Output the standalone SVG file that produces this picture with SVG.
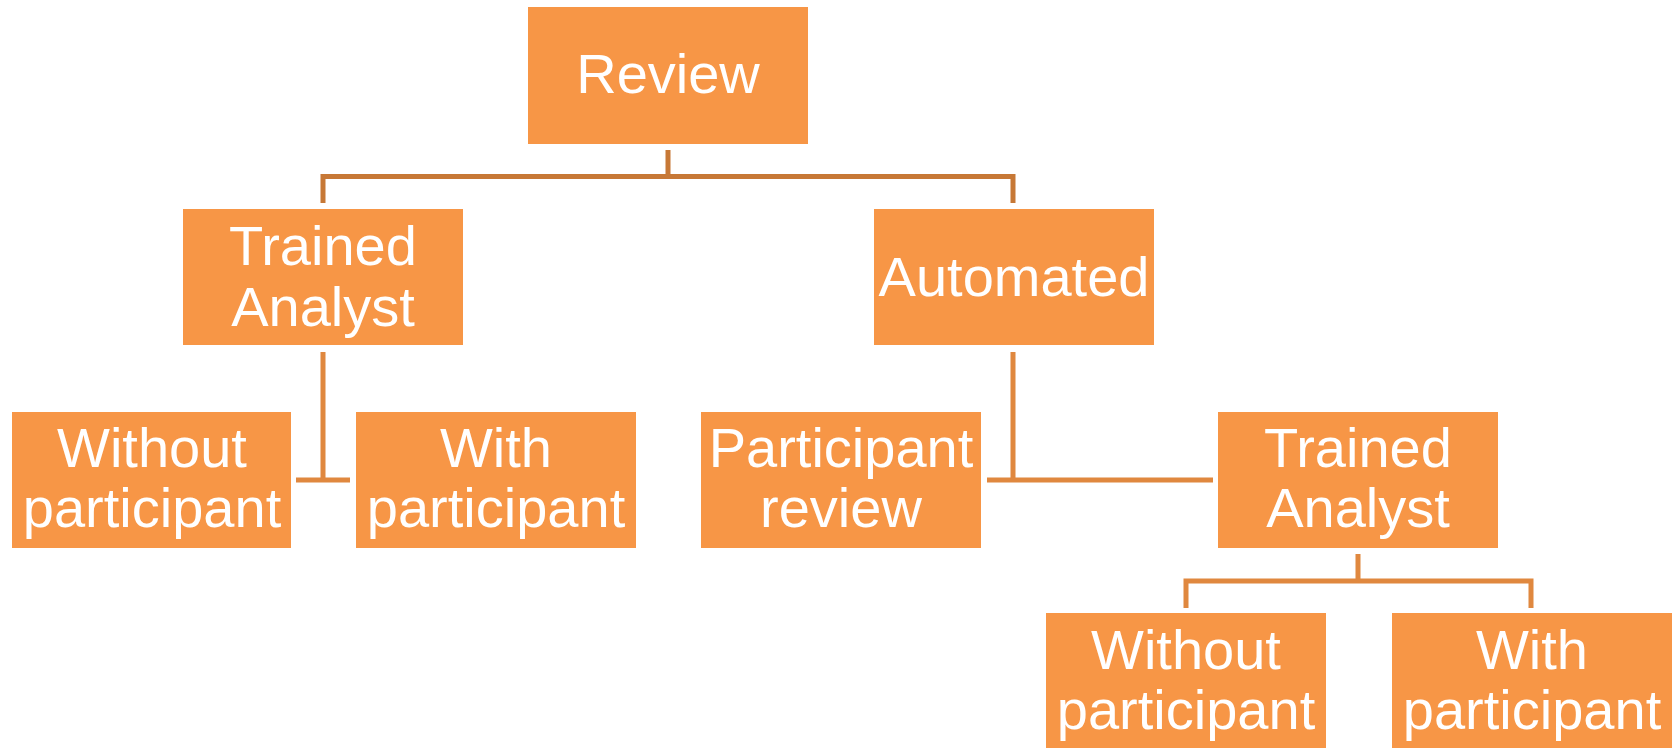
<svg xmlns="http://www.w3.org/2000/svg" width="1677" height="748" viewBox="0 0 1677 748">
<style>
.box{fill:#F79646;}
.t{font-family:"Liberation Sans",Arial,sans-serif;font-size:56px;fill:#FFFFFF;text-anchor:middle;}
.c1{stroke:#C77836;stroke-width:5;fill:none;}
.c2{stroke:#E0883F;stroke-width:5;fill:none;}
</style>
<rect width="1677" height="748" fill="#FFFFFF"/>
<g id="connectors">
<path class="c1" d="M668 150V176.5M323 203V176.5H1013V203"/>
<path class="c2" d="M323 352V480M296 480H350"/>
<path class="c2" d="M1013 352V480M987 480H1213"/>
<path class="c2" d="M1358 554V581M1186 608V581H1531V608"/>
</g>
<g id="review"><rect class="box" x="528" y="7" width="280" height="137"/><text class="t" x="668" y="93">Review</text></g>
<g id="trained-analyst-1"><rect class="box" x="183" y="209" width="280" height="136"/><text class="t" x="323" y="265">Trained</text><text class="t" x="323" y="326">Analyst</text></g>
<g id="automated"><rect class="box" x="874" y="209" width="280" height="136"/><text class="t" x="1014" y="296">Automated</text></g>
<g id="without-participant-1"><rect class="box" x="12" y="412" width="279" height="136"/><text class="t" x="152" y="467">Without</text><text class="t" x="152" y="527">participant</text></g>
<g id="with-participant-1"><rect class="box" x="356" y="412" width="280" height="136"/><text class="t" x="496" y="467">With</text><text class="t" x="496" y="527">participant</text></g>
<g id="participant-review"><rect class="box" x="701" y="412" width="280" height="136"/><text class="t" x="841" y="467">Participant</text><text class="t" x="841" y="527">review</text></g>
<g id="trained-analyst-2"><rect class="box" x="1218" y="412" width="280" height="136"/><text class="t" x="1358" y="467">Trained</text><text class="t" x="1358" y="527">Analyst</text></g>
<g id="without-participant-2"><rect class="box" x="1046" y="613" width="280" height="136"/><text class="t" x="1186" y="669">Without</text><text class="t" x="1186" y="729">participant</text></g>
<g id="with-participant-2"><rect class="box" x="1392" y="613" width="280" height="136"/><text class="t" x="1532" y="669">With</text><text class="t" x="1532" y="729">participant</text></g>
</svg>
